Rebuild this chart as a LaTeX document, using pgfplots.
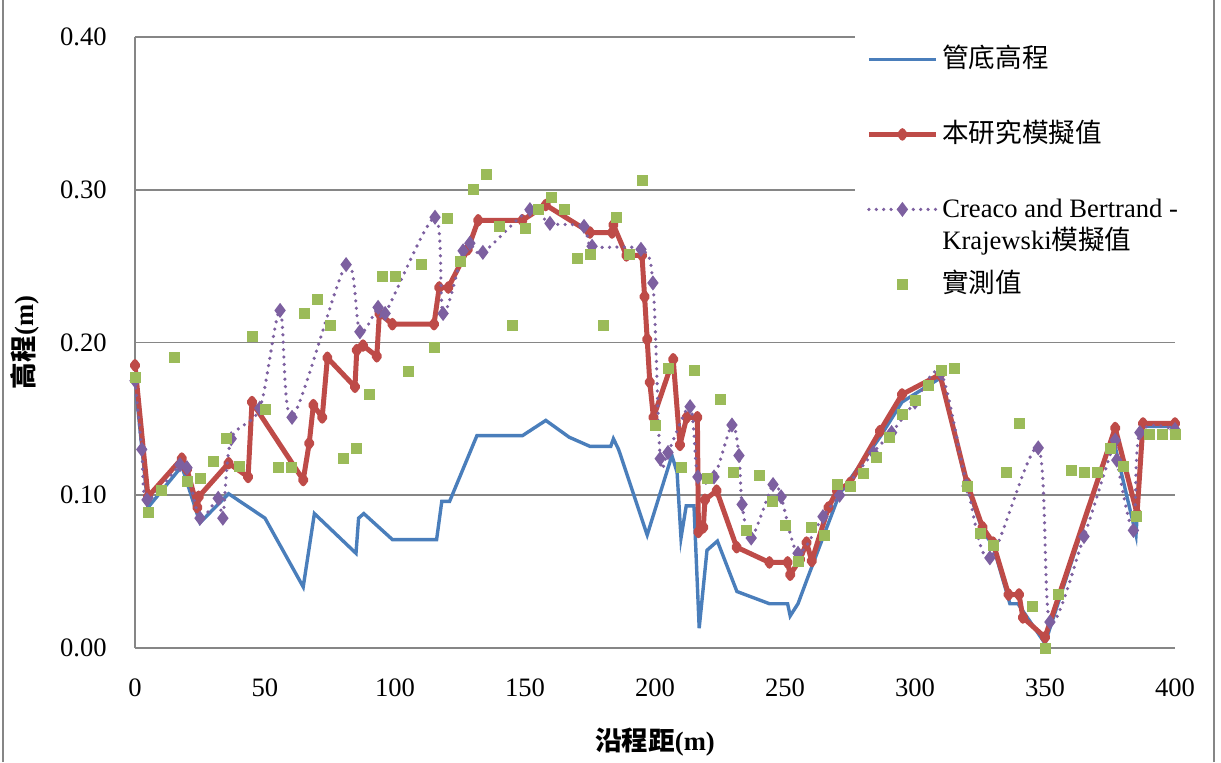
\documentclass[border=0pt]{standalone}
\usepackage{fontspec}
\setmainfont{Liberation Serif}
\newfontfamily\cjk{Noto Sans CJK TC}
\usepackage{pgfplots}
\pgfplotsset{compat=1.18}

\definecolor{pipeblue}{HTML}{4A7EBB}
\definecolor{simred}{HTML}{BE4B48}
\definecolor{cbpurple}{HTML}{7D60A0}
\definecolor{obsgreen}{HTML}{9BBB59}
\definecolor{axgrey}{HTML}{868686}

\begin{document}
\begin{tikzpicture}[font=\fontsize{13.3}{16}\selectfont]
\begin{axis}[
  at={(0,0)}, anchor=south west,
  scale only axis, width=520pt, height=305.5pt,
  xmin=0, xmax=400, ymin=0, ymax=0.4,
  xtick={0,50,...,400}, ytick={0,0.1,0.2,0.3,0.4},
  axis x line*=bottom, axis y line*=left,
  axis line style={axgrey, line width=0.9pt},
  ymajorgrids, grid style={axgrey, line width=0.9pt},
  major tick length=0pt,
  /pgf/number format/assume math mode=true,
  yticklabel style={/pgf/number format/.cd, fixed, fixed zerofill, precision=2, /tikz/.cd, xshift=-10.6pt},
  xticklabel style={yshift=-12pt},
  every axis x label/.style={at={(axis description cs:0.5,0)}, anchor=center, yshift=-47pt},
  every axis y label/.style={at={(axis description cs:0,0.5)}, anchor=center, xshift=-55pt, rotate=90},
  xlabel={\bfseries{\cjk 沿程距}(m)},
  ylabel={\bfseries{\cjk 高程}(m)},
  clip mode=individual,
  legend cell align=left,
  legend image code/.code={\draw[mark repeat=2,mark phase=2,#1] plot coordinates {(0pt,0pt) (16.75pt,0pt) (33.5pt,0pt)};},
  legend style={at={(axis description cs:0.6923,1)}, anchor=north west, yshift=1pt,
    draw=none, fill=white, inner xsep=5.5pt, inner ysep=3pt, row sep=19.5pt,
    nodes={inner sep=2pt, text height=11pt, text depth=3pt}},
]
% pipe invert
\addplot[pipeblue, line width=1.7pt] coordinates {
(0,0.175) (5,0.092) (18,0.119) (25,0.082) (36,0.101) (50,0.085) (64.7,0.040)
(69,0.088) (85,0.062) (86,0.085) (88,0.088) (99,0.071) (116,0.071) (118,0.096)
(121,0.096) (131.5,0.139) (149,0.139) (158,0.149) (167,0.138) (175,0.132)
(183,0.132) (184,0.137) (186,0.130) (197,0.074) (206.5,0.126) (208.5,0.115)
(210,0.072) (212,0.093) (215,0.093) (217,0.013) (220,0.064) (224,0.070)
(231.5,0.037) (244,0.029) (251,0.029) (252,0.021) (255,0.029) (258.5,0.045)
(271,0.101) (286.5,0.138) (295,0.161) (310,0.177) (320,0.106) (326,0.077)
(330,0.067) (336.5,0.029) (339.6,0.029) (350,0.003) (376,0.139) (385,0.074)
(387.5,0.145) (400,0.145)
};
\addlegendentry{{\cjk 管底高程}}
% this study
\addplot[simred, line width=2.5pt, line join=round, mark=diamond*, mark size=1.9pt] coordinates {
(0,0.185) (5,0.099) (18,0.124) (20,0.117) (24,0.092) (24.5,0.099) (36,0.121)
(43.5,0.112) (45,0.161) (64.7,0.110) (67,0.134) (68.6,0.159) (72,0.151)
(74,0.190) (84.6,0.171) (85.3,0.195) (87.7,0.198) (93,0.191) (94,0.219)
(99,0.212) (115,0.212) (117,0.236) (120.5,0.236) (128,0.261) (132,0.280)
(149,0.280) (158,0.290) (175,0.272) (183.5,0.272) (184,0.277) (189,0.257)
(195,0.257) (196,0.230) (197,0.202) (198,0.174) (199.4,0.151) (207,0.189)
(209.6,0.133) (212.2,0.151) (216.3,0.151) (216.7,0.076) (218.6,0.079)
(219.2,0.097) (223.7,0.103) (231.4,0.066) (244,0.056) (251,0.056) (252,0.048)
(255.8,0.058) (258.3,0.069) (260.3,0.057) (266.7,0.092) (270,0.103) (275,0.108)
(286.5,0.142) (295,0.166) (309.6,0.179) (320,0.108) (326,0.079) (330,0.069)
(336,0.035) (340,0.035) (341.5,0.020) (350,0.007) (377,0.144) (385.4,0.088)
(387.7,0.147) (400,0.147)
};
\addlegendentry{{\cjk 本研究模擬值}}
% Creaco and Bertrand-Krajewski
\addplot[cbpurple, line width=1.8pt, line cap=round, dash pattern=on 0pt off 3.7pt,
  smooth, tension=0.5, mark=diamond*, mark size=2.3pt, mark options={solid}] coordinates {
(0,0.175) (2.6,0.130) (4.6,0.097) (17.3,0.120) (20,0.118) (25,0.085) (32,0.098)
(33.8,0.085) (37,0.137) (48,0.157) (55.8,0.221) (60.4,0.151) (81.2,0.251)
(86.5,0.207) (93.5,0.223) (96.2,0.219) (115.4,0.282) (118.5,0.219) (126.2,0.260)
(128.8,0.265) (133.8,0.259) (151.9,0.287) (159.6,0.278) (172.7,0.276)
(175.8,0.263) (194.6,0.261) (199.2,0.239) (202,0.124) (205,0.128) (213.5,0.158)
(216.5,0.112) (222.7,0.112) (229.6,0.146) (232.3,0.126) (233.5,0.094) (237,0.072)
(245.4,0.107) (248.5,0.099) (255,0.062) (264.6,0.086) (271,0.100) (284,0.128)
(291,0.141) (300,0.161) (310,0.180) (320,0.106) (328.8,0.059) (347.4,0.131)
(351.9,0.017) (365,0.073) (377,0.136) (377.6,0.123) (384,0.077) (386.5,0.141)
(400,0.143)
};
\addlegendentry{\rlap{\raisebox{-16pt}[0pt][0pt]{Krajewski{\cjk 模擬值}}}Creaco and Bertrand -}
% measured
\addplot[only marks, mark=square*, mark size=2.5pt, color=obsgreen] table {
x y
0 0.177
5 0.089
10 0.103
15 0.190
20 0.109
25 0.111
30 0.122
35 0.137
40 0.119
45 0.204
50 0.156
55 0.118
60 0.118
65 0.219
70 0.228
75 0.211
80 0.124
85 0.131
90 0.166
95 0.243
100 0.243
105 0.181
110 0.251
115 0.197
120 0.281
125 0.253
130 0.300
135 0.310
140 0.276
145 0.211
150 0.275
155 0.287
160 0.295
165 0.287
170 0.255
175 0.258
180 0.211
185 0.282
190 0.258
195 0.306
200 0.146
205 0.183
210 0.118
215 0.182
220 0.111
225 0.163
230 0.115
235 0.077
240 0.113
245 0.096
250 0.080
255 0.057
260 0.079
265 0.074
270 0.107
275 0.106
280 0.114
285 0.125
290 0.138
295 0.153
300 0.162
305 0.172
310 0.182
315 0.183
320 0.106
325 0.075
330 0.067
335 0.115
340 0.147
345 0.027
350 0.000
355 0.035
360 0.116
365 0.115
370 0.115
375 0.131
380 0.119
385 0.086
390 0.140
395 0.140
400 0.140
};
\addlegendentry{{\cjk 實測值}}
\end{axis}
\draw[axgrey, line width=0.8pt] (-66pt,-57pt) -- (-66pt,324pt);
\draw[axgrey, line width=0.8pt] (539.5pt,-57pt) -- (539.5pt,324pt);
\pgfresetboundingbox
\useasboundingbox (-67.5pt,-57pt) rectangle (543pt,324pt);
\end{tikzpicture}
\end{document}
